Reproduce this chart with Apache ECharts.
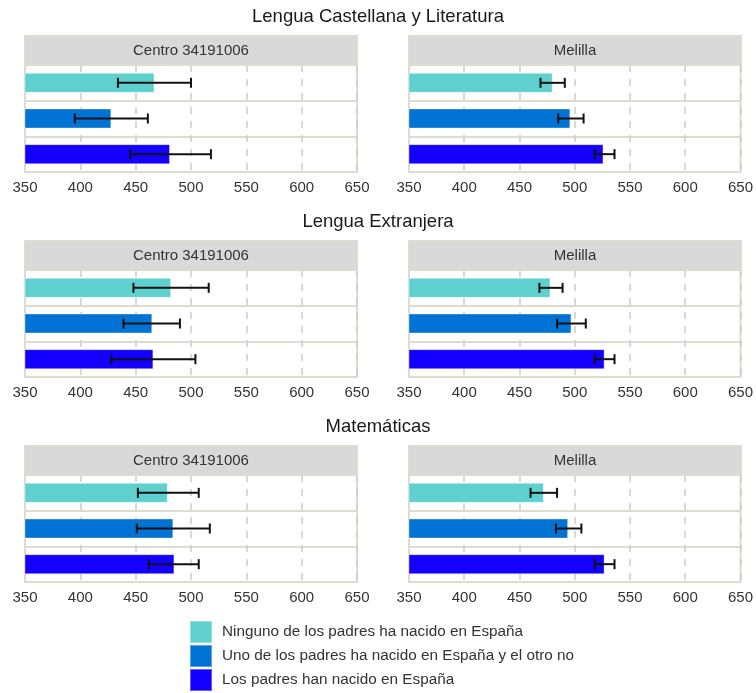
<!DOCTYPE html>
<html><head><meta charset="utf-8">
<script src="https://cdn.jsdelivr.net/npm/echarts@6/dist/echarts.min.js"></script>
<style>html,body{margin:0;padding:0;background:#fff}#c{width:756px;height:693px}</style>
</head><body><div id="c"></div>
<script>
const subjects = ['Lengua Castellana y Literatura', 'Lengua Extranjera', 'Matemáticas'];
const panels = ['Centro 34191006', 'Melilla'];
const groups = ['Ninguno de los padres ha nacido en España', 'Uno de los padres ha nacido en España y el otro no', 'Los padres han nacido en España'];
const colors = ['#5ED1CE', '#0073D4', '#1400FF'];
const xTicks = [350, 400, 450, 500, 550, 600, 650];

const lclCentroMean = [467, 428, 481];
const lclCentroLow  = [434, 395, 445];
const lclCentroHigh = [500, 461, 518];
const lclMelillaMean = [480, 496, 526];
const lclMelillaLow  = [469, 485, 518];
const lclMelillaHigh = [491, 508, 536];

const leCentroMean = [482, 465, 466];
const leCentroLow  = [448, 439, 428];
const leCentroHigh = [516, 490, 504];
const leMelillaMean = [478, 497, 527];
const leMelillaLow  = [468, 484, 518];
const leMelillaHigh = [489, 510, 536];

const matCentroMean = [479, 484, 485];
const matCentroLow  = [452, 451, 462];
const matCentroHigh = [507, 517, 507];
const matMelillaMean = [472, 494, 527];
const matMelillaLow  = [460, 483, 518];
const matMelillaHigh = [484, 506, 536];

const data = [
  [[lclCentroMean, lclCentroLow, lclCentroHigh], [lclMelillaMean, lclMelillaLow, lclMelillaHigh]],
  [[leCentroMean, leCentroLow, leCentroHigh], [leMelillaMean, leMelillaLow, leMelillaHigh]],
  [[matCentroMean, matCentroLow, matCentroHigh], [matMelillaMean, matMelillaLow, matMelillaHigh]]
];

const FONT = '"Liberation Sans", Arial, sans-serif';
const lineCol = '#DCDCD0';
const panelLeft = [25, 409];
const panelW = 332;
const rowTop = [36, 241, 446];
const headerH = 29;
const gridH = 107;

const grids = [], xAxes = [], yAxes = [], series = [], graphics = [], titles = [];
let gi = 0;
for (let r = 0; r < 3; r++) {
  titles.push({
    text: subjects[r], left: 'center', top: rowTop[r] - 34,
    textStyle: { fontFamily: FONT, fontSize: 18.5, fontWeight: 'normal', color: '#1a1a1a' }
  });
  for (let p = 0; p < 2; p++) {
    const L = panelLeft[p], T = rowTop[r] + headerH;
    grids.push({ left: L, top: T, width: panelW, height: gridH, show: true, borderColor: lineCol, borderWidth: 2, backgroundColor: '#fff' });
    graphics.push({
      type: 'rect', shape: { x: L, y: rowTop[r], width: panelW, height: headerH },
      style: { fill: '#D9D9D9', stroke: lineCol, lineWidth: 2 }, z: 10
    });
    graphics.push({
      type: 'text', x: L + panelW / 2, y: rowTop[r] + headerH / 2,
      style: { text: panels[p], fill: '#333', font: '15px ' + FONT, align: 'center', verticalAlign: 'middle' }, z: 11
    });
    xAxes.push({
      gridIndex: gi, type: 'value', min: 350, max: 650, interval: 50,
      axisLine: { show: true, lineStyle: { color: lineCol, width: 2 } },
      axisTick: { show: false },
      axisLabel: { fontFamily: FONT, fontSize: 15, color: '#333', margin: 8, showMinLabel: true, showMaxLabel: true,
        formatter: v => xTicks.includes(v) ? String(v) : '' },
      splitLine: { show: true, lineStyle: { color: '#CCCCCC', type: [7, 7], width: 1.5 } }
    });
    yAxes.push({
      gridIndex: gi, type: 'category', data: groups, inverse: true,
      axisLine: { show: true, lineStyle: { color: lineCol, width: 2 } },
      axisTick: { show: false }, axisLabel: { show: false },
      splitLine: { show: true, lineStyle: { color: lineCol, width: 2 } }
    });
    const [mean, low, high] = data[r][p];
    for (let g = 0; g < 3; g++) {
      series.push({
        type: 'bar', name: groups[g], xAxisIndex: gi, yAxisIndex: gi,
        barWidth: 20, barGap: '-100%',
        itemStyle: { color: colors[g], borderColor: 'rgba(255,255,255,0.35)', borderWidth: 1 },
        data: groups.map((_, k) => k === g ? mean[g] : null),
        z: 3
      });
    }
    series.push({
      type: 'custom', name: 'err' + gi, xAxisIndex: gi, yAxisIndex: gi, z: 5,
      data: groups.map((_, k) => [k, low[k], high[k]]),
      encode: { y: 0, x: [1, 2] },
      renderItem: function (params, api) {
        const c = api.value(0);
        const a = api.coord([api.value(1), c]);
        const b = api.coord([api.value(2), c]);
        const h = 5;
        const st = { stroke: '#111', lineWidth: 2 };
        return { type: 'group', children: [
          { type: 'line', shape: { x1: a[0], y1: a[1], x2: b[0], y2: b[1] }, style: st },
          { type: 'line', shape: { x1: a[0], y1: a[1] - h, x2: a[0], y2: a[1] + h }, style: st },
          { type: 'line', shape: { x1: b[0], y1: b[1] - h, x2: b[0], y2: b[1] + h }, style: st }
        ] };
      }
    });
    gi++;
  }
}

const legends = groups.map((g, i) => ({
  data: [g], left: 189, top: 620 + i * 24, padding: 0,
  icon: 'rect', itemWidth: 22, itemHeight: 22,
  textStyle: { fontFamily: FONT, fontSize: 15.3, color: '#333', padding: [0, 0, 0, 5] },
  selectedMode: false
}));

const chart = echarts.init(document.getElementById('c'), null, { renderer: 'canvas' });
chart.setOption({
  animation: false,
  backgroundColor: '#fff',
  textStyle: { fontFamily: FONT },
  title: titles,
  grid: grids, xAxis: xAxes, yAxis: yAxes, series: series,
  graphic: graphics,
  legend: legends
});
</script></body></html>
